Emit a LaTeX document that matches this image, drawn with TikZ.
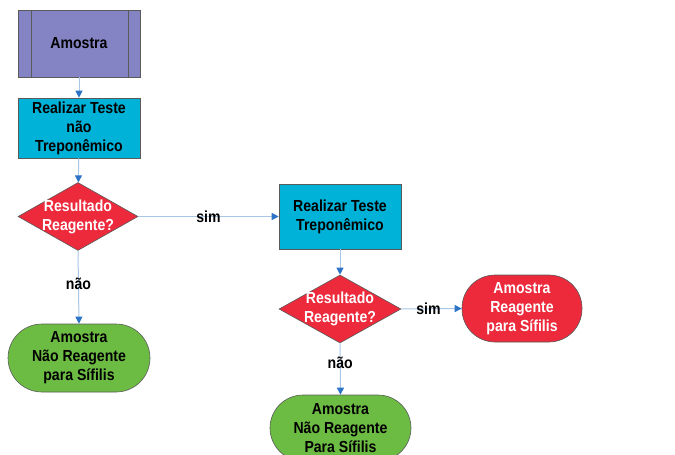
\documentclass[tikz,border=0pt]{standalone}
\usepackage{fontspec}
\setmainfont[FakeStretch=0.88]{Liberation Sans}
\usetikzlibrary{shapes.geometric,arrows.meta}
\definecolor{purp}{HTML}{8484C4}
\definecolor{cyanbox}{HTML}{00B2D8}
\definecolor{redbox}{HTML}{EC2A3C}
\definecolor{greenbox}{HTML}{6CBC44}
\definecolor{edgec}{HTML}{5A5A5A}
\definecolor{linec}{HTML}{A8C6E6}
\definecolor{tipc}{HTML}{2E74C6}
\tikzset{
  txt/.style={font=\bfseries\fontsize{16}{19}\selectfont, align=center},
  procbox/.style={txt, draw=edgec, line width=0.6pt, minimum width=122pt, inner sep=0pt},
  decbox/.style={diamond, draw=edgec, line width=0.6pt, fill=redbox, minimum width=120pt, minimum height=68pt, inner sep=0pt},
  dectext/.style={txt, text=white},
  termbox/.style={txt, draw=edgec, line width=0.6pt, inner sep=0pt},
  conn/.style={draw=linec, line width=1pt, -{Triangle[length=7pt,width=7pt,color=tipc]}},
  lab/.style={txt, inner sep=1pt}
}
\begin{document}
\begin{tikzpicture}[x=1pt,y=-1pt]
\useasboundingbox (0,0) rectangle (675,455);
\clip (0,0) rectangle (675,455);
% Amostra (predefined process)
\node[procbox, fill=purp, minimum height=67pt,
  path picture={\draw[edgec, line width=0.6pt]
    ([xshift=13pt]path picture bounding box.north west) -- ([xshift=13pt]path picture bounding box.south west)
    ([xshift=-12pt]path picture bounding box.north east) -- ([xshift=-12pt]path picture bounding box.south east);}]
  (amostra) at (79,43.5) {Amostra};
\node[procbox, fill=cyanbox, minimum height=60pt] (teste1) at (79,128) {Realizar Teste\\não\\Treponêmico};
\node[decbox] (d1) at (78,216.5) {};
\node[dectext] at (d1) {Resultado\\Reagente?};
\node[procbox, fill=cyanbox, minimum height=65pt] (teste2) at (340,216.5) {Realizar Teste\\Treponêmico};
\node[decbox, minimum width=122pt] (d2) at (340,309) {};
\node[dectext] at (d2) {Resultado\\Reagente?};
\node[termbox, fill=greenbox, minimum width=142pt, minimum height=68pt, rounded corners=34pt] (neg1) at (79,358) {Amostra\\Não Reagente\\para Sífilis};
\node[termbox, fill=redbox, text=white, minimum width=120pt, minimum height=67pt, rounded corners=33pt] (pos) at (522,308.5) {Amostra\\Reagente\\para Sífilis};
\node[termbox, fill=greenbox, minimum width=141pt, minimum height=66pt, rounded corners=33pt] (neg2) at (340.5,428) {Amostra\\Não Reagente\\Para Sífilis};
% connectors
\draw[conn] (amostra) -- (teste1);
\draw[conn] (teste1) -- (d1);
\draw[conn] (d1.east) -- node[lab, pos=0.5] {sim} (teste2.west);
\draw[conn] (d1.south) -- node[lab, pos=0.45] {não} (neg1.north);
\draw[conn] (teste2) -- (d2);
\draw[conn] (d2.east) -- node[lab, pos=0.45] {sim} (pos.west);
\draw[conn] (d2.south) -- node[lab, pos=0.37] {não} (neg2.north);
\end{tikzpicture}
\end{document}
